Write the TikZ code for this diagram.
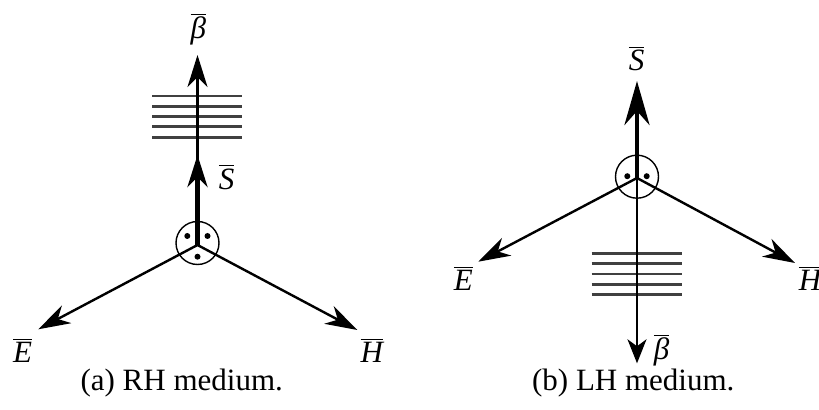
\documentclass[tikz,border=0pt]{standalone}
\usepackage{fontspec}
\setmainfont{LiberationSerif}[Extension=.ttf, UprightFont=*-Regular, ItalicFont=*-Italic, BoldFont=*-Bold, BoldItalicFont=*-BoldItalic]
\usetikzlibrary{arrows.meta,positioning,calc}
\newcommand{\barvec}[1]{$\overline{\rule{0pt}{1.2ex}\mbox{\itshape #1}}$}
\tikzset{
  axis/.style={line width=1.2pt, -{Stealth[length=16pt, width=10pt, inset=5pt]}},
  power/.style={line width=2.4pt, -{Stealth[length=16pt, width=10pt, inset=5pt]}},
  ring/.style={circle, draw, line width=0.7pt, minimum size=21.5pt, inner sep=0pt},
  fielddot/.style={circle, fill, inner sep=0pt, minimum size=3pt},
  wavefront/.style={line width=1.4pt, draw=black!75},
  lab/.style={inner sep=0pt, font=\fontsize{15.5}{18}\selectfont},
  capt/.style={inner sep=0pt, font=\fontsize{15.5}{18}\selectfont}
}

\begin{document}
\begin{tikzpicture}[x=0.5pt, y=-0.5pt]
    \useasboundingbox (0,0) rectangle (819,410);
    % (a) RH medium
    \coordinate (o1) at (197.5,245);
    \coordinate (b1) at (197.5,55);
    \coordinate (s1) at (197.5,155);
    \coordinate (e1) at (38.3,329.3);
    \coordinate (h1) at (357.3,330);
    \foreach \k in {0,...,4}
      \draw[wavefront] (152.3,96+10.3*\k) -- (242.3,96+10.3*\k);
    \node[ring] (ring1) at (197.5,243) {};
    \node[fielddot] (d1a) at (187.3,236) {};
    \node[fielddot] (d1b) at (207.5,236) {};
    \node[fielddot] (d1c) at (197.5,256.7) {};
    \draw[axis] (o1) -- (b1);
    \draw[axis] (o1) -- (e1);
    \draw[axis] (o1) -- (h1);
    \draw[power] (o1) -- (s1);
    \node[lab] (lb1) at (198.3,29) {\barvec{β}};
    \node[lab] (ls1) at (226.7,177) {\barvec{S}};
    \node[lab] (le1) at (22.7,350.5) {\barvec{E}};
    \node[lab] (lh1) at (371.7,350.5) {\barvec{H}};
    \node[capt] (cap1) at (181.7,383.5) {(a) RH medium.};
    % (b) LH medium
    \coordinate (o2) at (637,178);
    \coordinate (s2) at (637,81);
    \coordinate (b2) at (637,363.3);
    \coordinate (e2) at (478.3,261.7);
    \coordinate (h2) at (795,263);
    \foreach \k in {0,...,4}
      \draw[wavefront] (591.7,253.3+10.4*\k) -- (681.7,253.3+10.4*\k);
    \node[ring] (ring2) at (637,176.7) {};
    \node[fielddot] (d2a) at (627.3,176.2) {};
    \node[fielddot] (d2b) at (646.7,176.2) {};
    \draw[axis, -{Stealth[length=12pt, width=9.5pt, inset=3.5pt]}] (o2) -- (b2);
    \draw[axis] (o2) -- (e2);
    \draw[axis] (o2) -- (h2);
    \draw[power, -{Stealth[length=22pt, width=12.5pt, inset=7pt]}] (o2) -- (s2);
    \node[lab] (ls2) at (636.7,58.3) {\barvec{S}};
    \node[lab] (lb2) at (661.7,350) {\barvec{β}};
    \node[lab] (le2) at (463.3,278.3) {\barvec{E}};
    \node[lab] (lh2) at (810,278.3) {\barvec{H}};
    \node[capt] (cap2) at (633.3,383.5) {(b) LH medium.};
  \end{tikzpicture}
\end{document}
